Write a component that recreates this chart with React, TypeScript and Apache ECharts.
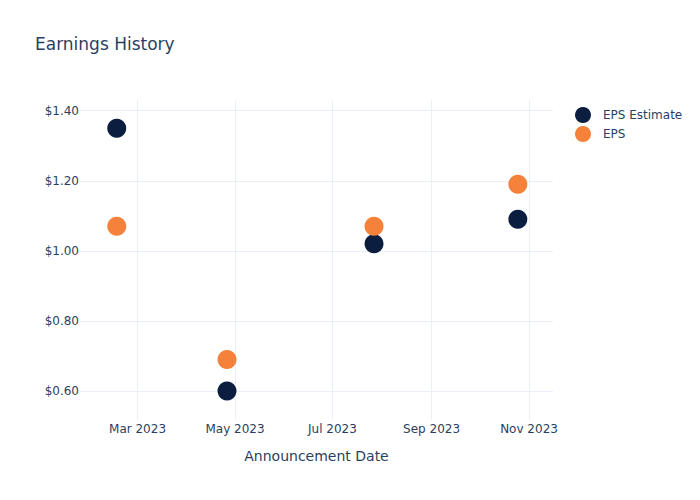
import React, { useEffect, useRef } from "react";
import * as echarts from "echarts";

const dates = ["2023-02-16", "2023-04-26", "2023-07-27", "2023-10-25"];
const epsEstimate = [1.35, 0.6, 1.02, 1.09];
const eps = [1.07, 0.69, 1.07, 1.19];
const xTicks = ["2023-03-01", "2023-05-01", "2023-07-01", "2023-09-01", "2023-11-01"];
const yTicks = [0.6, 0.8, 1.0, 1.2, 1.4];
const xRange = ["2023-01-24", "2023-11-16"];
const yRange = [0.5173, 1.4305];

const FONT = "DejaVu Sans";
const TEXT = "#2a3f5f";
const GRID = "#ebf0f8";
const MONTHS = ["Jan", "Feb", "Mar", "Apr", "May", "Jun", "Jul", "Aug", "Sep", "Oct", "Nov", "Dec"];

const ts = (d: string) => {
  const [y, m, day] = d.split("-").map(Number);
  return Date.UTC(y, m - 1, day);
};

export default function App() {
  const ref = useRef<HTMLDivElement>(null);
  useEffect(() => {
    if (!ref.current) return;
    const chart = echarts.init(ref.current, null, { renderer: "svg" });
    const tickVals = xTicks.map(ts);
    chart.setOption({
      animation: false,
      textStyle: { fontFamily: FONT },
      title: {
        text: "Earnings History",
        left: 27,
        top: 27,
        padding: 0,
        textStyle: { fontFamily: FONT, fontSize: 17, fontWeight: "normal", color: TEXT },
      },
      legend: {
        orient: "vertical",
        left: 567,
        top: 99,
        padding: 0,
        itemWidth: 30,
        itemHeight: 16,
        itemGap: 3,
        icon: "circle",
        textStyle: { fontFamily: FONT, fontSize: 12, color: TEXT },
        data: ["EPS Estimate", "EPS"],
      },
      grid: { left: 72, right: 155, top: 92, bottom: 88, containLabel: false },
      xAxis: {
        type: "value",
        min: ts(xRange[0]),
        max: ts(xRange[1]),
        name: "Announcement Date",
        nameLocation: "middle",
        nameGap: 29,
        nameTextStyle: { fontFamily: FONT, fontSize: 14, color: TEXT },
        axisLine: { show: false },
        axisTick: { show: false, customValues: tickVals },
        splitLine: { show: true, lineStyle: { color: GRID, width: 1 } },
        axisLabel: {
          customValues: tickVals,
          fontFamily: FONT,
          fontSize: 12,
          color: TEXT,
          margin: 3,
          formatter: (v: number) => {
            const d = new Date(v);
            return MONTHS[d.getUTCMonth()] + " " + d.getUTCFullYear();
          },
        },
      },
      yAxis: {
        type: "value",
        min: yRange[0],
        max: yRange[1],
        axisLine: { show: false },
        axisTick: { show: false, customValues: yTicks },
        splitLine: { show: true, lineStyle: { color: GRID, width: 1 } },
        axisLabel: {
          customValues: yTicks,
          fontFamily: FONT,
          fontSize: 12,
          color: TEXT,
          margin: 1,
          formatter: (v: number) => "$" + v.toFixed(2),
        },
      },
      series: [
        {
          name: "EPS Estimate",
          type: "scatter",
          symbolSize: 19,
          itemStyle: { color: "#0b1e3f", opacity: 1 },
          data: dates.map((d, i) => [ts(d), epsEstimate[i]]),
        },
        {
          name: "EPS",
          type: "scatter",
          symbolSize: 19,
          itemStyle: { color: "#f5813a", opacity: 1 },
          data: dates.map((d, i) => [ts(d), eps[i]]),
        },
      ],
    });
    return () => chart.dispose();
  }, []);
  return <div ref={ref} style={{ width: 700, height: 500 }} />;
}
